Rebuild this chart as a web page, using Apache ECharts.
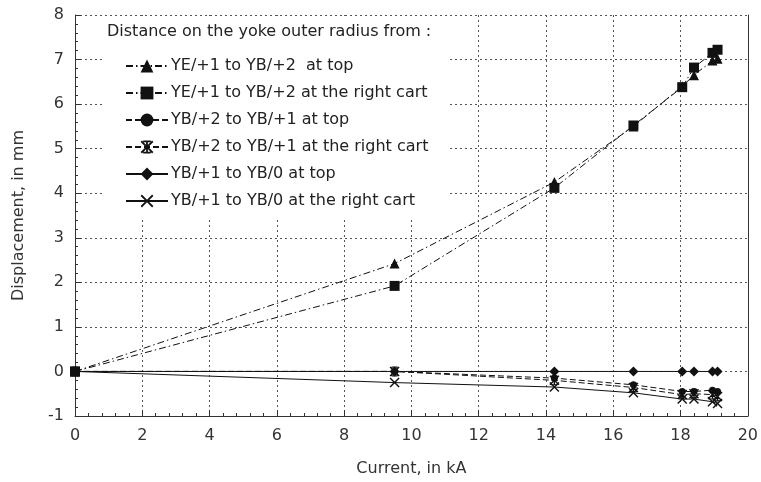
<!DOCTYPE html>
<html><head><meta charset="utf-8">
<script src="https://cdn.jsdelivr.net/npm/echarts@6/dist/echarts.min.js"></script>
<style>html,body{margin:0;padding:0;background:#fff}#c{width:761px;height:482px}</style>
</head><body><div id="c"></div>
<script>
const current = [0, 9.5, 14.25, 16.6, 18.05, 18.4, 18.95, 19.1];
const names = [
  'YE/+1 to YB/+2  at top',
  'YE/+1 to YB/+2 at the right cart',
  'YB/+2 to YB/+1 at top',
  'YB/+2 to YB/+1 at the right cart',
  'YB/+1 to YB/0 at top',
  'YB/+1 to YB/0 at the right cart'
];
const yeTop   = [0, 2.42, 4.25, 5.5, 6.4, 6.65, 6.98, 7.02];
const yeCart  = [0, 1.92, 4.12, 5.52, 6.38, 6.82, 7.15, 7.22];
const yb2Top  = [0, 0, -0.15, -0.3, -0.45, -0.45, -0.42, -0.45];
const yb2Cart = [0, 0, -0.2, -0.36, -0.52, -0.5, -0.52, -0.56];
const yb1Top  = [0, 0, 0, 0, 0, 0, 0, 0];
const yb1Cart = [0, -0.25, -0.35, -0.48, -0.62, -0.62, -0.68, -0.72];
const legendTitle = 'Distance on the yoke outer radius from :';
const xName = 'Current, in kA';
const yName = 'Displacement, in mm';

const FONT = 'DejaVu Sans';
const BLACK = '#111';
const dashDot = [7, 3, 1.5, 3];
const dashed = [6, 3];
const starPath = 'path://M0,1 L1,0 L5,4 L9,0 L10,1 L6,5 L10,9 L9,10 L5,6 L1,10 L0,9 L4,5 Z M4.3,0 L5.7,0 L5.7,10 L4.3,10 Z M2,0 L8,0 L8,1.2 L2,1.2 Z M2,8.8 L8,8.8 L8,10 L2,10 Z';
const crossPath = 'path://M0,1 L1,0 L5,4 L9,0 L10,1 L6,5 L10,9 L9,10 L5,6 L1,10 L0,9 L4,5 Z';

function pairs(ys){ return current.map((x,i)=>[x, ys[i]]); }
function mk(name, ys, symbol, size, dash){
  return {
    name, type:'line', data: pairs(ys), symbol, symbolSize: size,
    itemStyle:{color:BLACK, borderColor:BLACK, borderWidth:0},
    lineStyle:{color:BLACK, width:1, type:dash},
    emphasis:{disabled:true}, animation:false, z:5
  };
}

const chart = echarts.init(document.getElementById('c'), null, {renderer:'canvas'});
chart.setOption({
  animation:false,
  backgroundColor:'#fff',
  grid:{left:75, right:8, top:15, bottom:65},
  title:{text:legendTitle, left:107, top:24, padding:0,
    textStyle:{fontFamily:FONT, fontSize:16, fontWeight:'normal', color:'#222'}},
  graphic:[{type:'rect', z:3, shape:{x:104, y:16, width:345, height:203},
    style:{fill:'#fff'}, silent:true}],
  legend:{
    orient:'vertical', left:125, top:58, padding:0, itemWidth:42, itemHeight:16, itemGap:11,
    data:names, z:6,
    textStyle:{fontFamily:FONT, fontSize:16, color:'#222', lineHeight:16, padding:[0,0,0,-2]},
    selectedMode:false
  },
  xAxis:{
    type:'value', min:0, max:20, interval:2,
    name:xName, nameLocation:'middle', nameGap:45,
    nameTextStyle:{fontFamily:FONT, fontSize:16, color:'#333'},
    axisLine:{show:true, onZero:false, lineStyle:{color:'#333', width:1}},
    axisTick:{show:true, inside:true, length:6, lineStyle:{color:'#333'}},
    minorTick:{show:true, splitNumber:5, length:3, lineStyle:{color:'#333'}},
    axisLabel:{fontFamily:FONT, fontSize:16, color:'#333', margin:12},
    splitLine:{show:true, lineStyle:{color:'#555', type:[2,3], width:1}}
  },
  yAxis:[{
    type:'value', min:-1, max:8, interval:1,
    name:yName, nameLocation:'middle', nameGap:48,
    nameTextStyle:{fontFamily:FONT, fontSize:16, color:'#333'},
    axisLine:{show:true, onZero:false, lineStyle:{color:'#333', width:1}},
    axisTick:{show:true, inside:true, length:6, lineStyle:{color:'#333'}},
    minorTick:{show:true, splitNumber:5, length:3, lineStyle:{color:'#333'}},
    axisLabel:{fontFamily:FONT, fontSize:16, color:'#333', margin:11},
    splitLine:{show:true, lineStyle:{color:'#555', type:[2,3], width:1}}
  },{
    type:'value', min:-1, max:8, interval:1, position:'right',
    axisLine:{show:true, onZero:false, lineStyle:{color:'#333', width:1}},
    axisTick:{show:false}, axisLabel:{show:false}, splitLine:{show:false}
  }],
  series:[
    mk(names[0], yeTop, 'triangle', 10, dashDot),
    mk(names[1], yeCart, 'rect', 10, dashDot),
    mk(names[2], yb2Top, 'circle', 7, dashed),
    mk(names[3], yb2Cart, starPath, 10, dashed),
    mk(names[4], yb1Top, 'diamond', 10, 'solid'),
    mk(names[5], yb1Cart, crossPath, 10, 'solid')
  ]
});
</script></body></html>
